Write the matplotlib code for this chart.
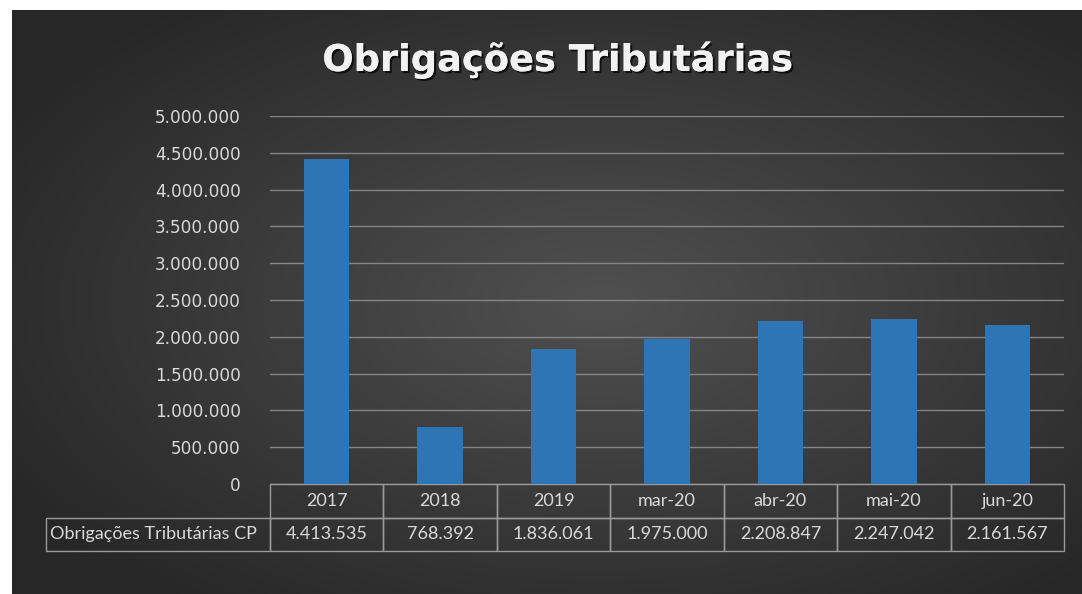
#!/usr/bin/env python3
# -*- coding: utf-8 -*-
"""
Bar chart of short-term tax obligations with an Excel-style data table.
"""

import numpy as np
import matplotlib
matplotlib.use("Agg")
import matplotlib.pyplot as plt
import matplotlib.patheffects as pe
from matplotlib.table import Table
from matplotlib.ticker import FuncFormatter


# Data (from the reference chart's data table)
PERIODS = ["2017", "2018", "2019", "mar-20", "abr-20", "mai-20", "jun-20"]
VALUES = [4413535, 768392, 1836061, 1975000, 2208847, 2247042, 2161567]
SERIES_NAME = "Obrigações Tributárias CP"
TITLE = "Obrigações Tributárias"
Y_TICKS = [0, 500000, 1000000, 1500000, 2000000, 2500000,
           3000000, 3500000, 4000000, 4500000, 5000000]

W_PX, H_PX = 1082, 594
BAR_COLOR = "#2e75b6"
TEXT_COLOR = "#d9d9d9"
GRID_COLOR = "#858585"
EDGE_COLOR = "#9a9a9a"
TABLE_FONT = ["Lato", "DejaVu Sans"]


def br_number(v: float) -> str:
    """Format a number with '.' as thousands separator."""
    return f"{int(round(v)):,}".replace(",", ".")


def draw_background(fig) -> None:
    """Dark radial gradient panel, leaving a white margin top/left."""
    x0, y0 = 12 / W_PX, 0.0
    bg = fig.add_axes([x0, y0, 1 - x0, 1 - 10 / H_PX], zorder=-10)
    ny, nx = 300, 540
    yy, xx = np.mgrid[0:ny, 0:nx]
    dx = (xx / nx - 0.55) / 0.65
    dy = (yy / ny - 0.50) / 0.65
    r = np.clip(np.sqrt(dx ** 2 + dy ** 2), 0, 1)
    inner = np.array([0x50, 0x50, 0x50]) / 255
    outer = np.array([0x27, 0x27, 0x27]) / 255
    img = inner[None, None, :] * (1 - r[..., None]) + outer[None, None, :] * r[..., None]
    bg.imshow(img, aspect="auto", interpolation="bilinear")
    bg.set_axis_off()


def style_cell(cell, size=13):
    cell.set_facecolor("none")
    cell.set_edgecolor(EDGE_COLOR)
    cell.set_linewidth(1.0)
    txt = cell.get_text()
    txt.set_color(TEXT_COLOR)
    txt.set_fontsize(size)
    txt.set_family(TABLE_FONT)


def draw_table(ax) -> None:
    """Header row of periods plus one row of values, below the axes."""
    n = len(PERIODS)
    label_w = 224 / 794
    col_w = 1 / n
    row_h = 33.5 / 368

    # bbox covers the data cells only; the label column hangs off to the left
    tbl = Table(ax, bbox=[0, -2 * row_h, 1, 2 * row_h])
    tbl.auto_set_font_size(False)
    for j, p in enumerate(PERIODS):
        c = tbl.add_cell(0, j, width=col_w, height=row_h, text=p, loc="center")
        style_cell(c)
        c = tbl.add_cell(1, j, width=col_w, height=row_h,
                         text=br_number(VALUES[j]), loc="center")
        style_cell(c)
    c = tbl.add_cell(1, -1, width=label_w, height=row_h, text=SERIES_NAME, loc="left")
    c.PAD = 0.02
    style_cell(c)
    ax.add_table(tbl)


def main() -> None:
    fig = plt.figure(figsize=(W_PX / 100, H_PX / 100), dpi=100, facecolor="white")
    draw_background(fig)

    left = 270 / W_PX
    width = 794 / W_PX
    bottom = 1 - 484 / H_PX
    height = 368 / H_PX
    ax = fig.add_axes([left, bottom, width, height])
    ax.set_facecolor("none")

    x = np.arange(len(PERIODS))
    ax.bar(x, VALUES, width=0.4, color=BAR_COLOR, zorder=3)

    ax.set_xlim(-0.5, len(PERIODS) - 0.5)
    ax.set_ylim(0, 5000000)
    ax.set_yticks(Y_TICKS)
    ax.yaxis.set_major_formatter(FuncFormatter(lambda v, _: br_number(v)))
    ax.tick_params(axis="y", length=0, pad=21, labelsize=12.2, labelcolor=TEXT_COLOR)
    for lbl in ax.get_yticklabels():
        lbl.set_family("DejaVu Sans")
    ax.set_xticks([])
    ax.grid(axis="y", color=GRID_COLOR, linewidth=1.0, zorder=0)
    for s in ax.spines.values():
        s.set_visible(False)

    draw_table(ax)

    fig.text(
        558 / W_PX, 1 - 71 / H_PX, TITLE,
        ha="center", va="baseline", fontsize=26.5, fontweight="bold",
        color="#f2f2f2", family="DejaVu Sans",
        path_effects=[pe.withSimplePatchShadow(offset=(1.5, -1.5),
                                               shadow_rgbFace="black", alpha=0.7),
                      pe.Normal()],
    )

    fig.savefig("out.png", dpi=100, facecolor="white")
    plt.close(fig)


if __name__ == "__main__":
    main()
